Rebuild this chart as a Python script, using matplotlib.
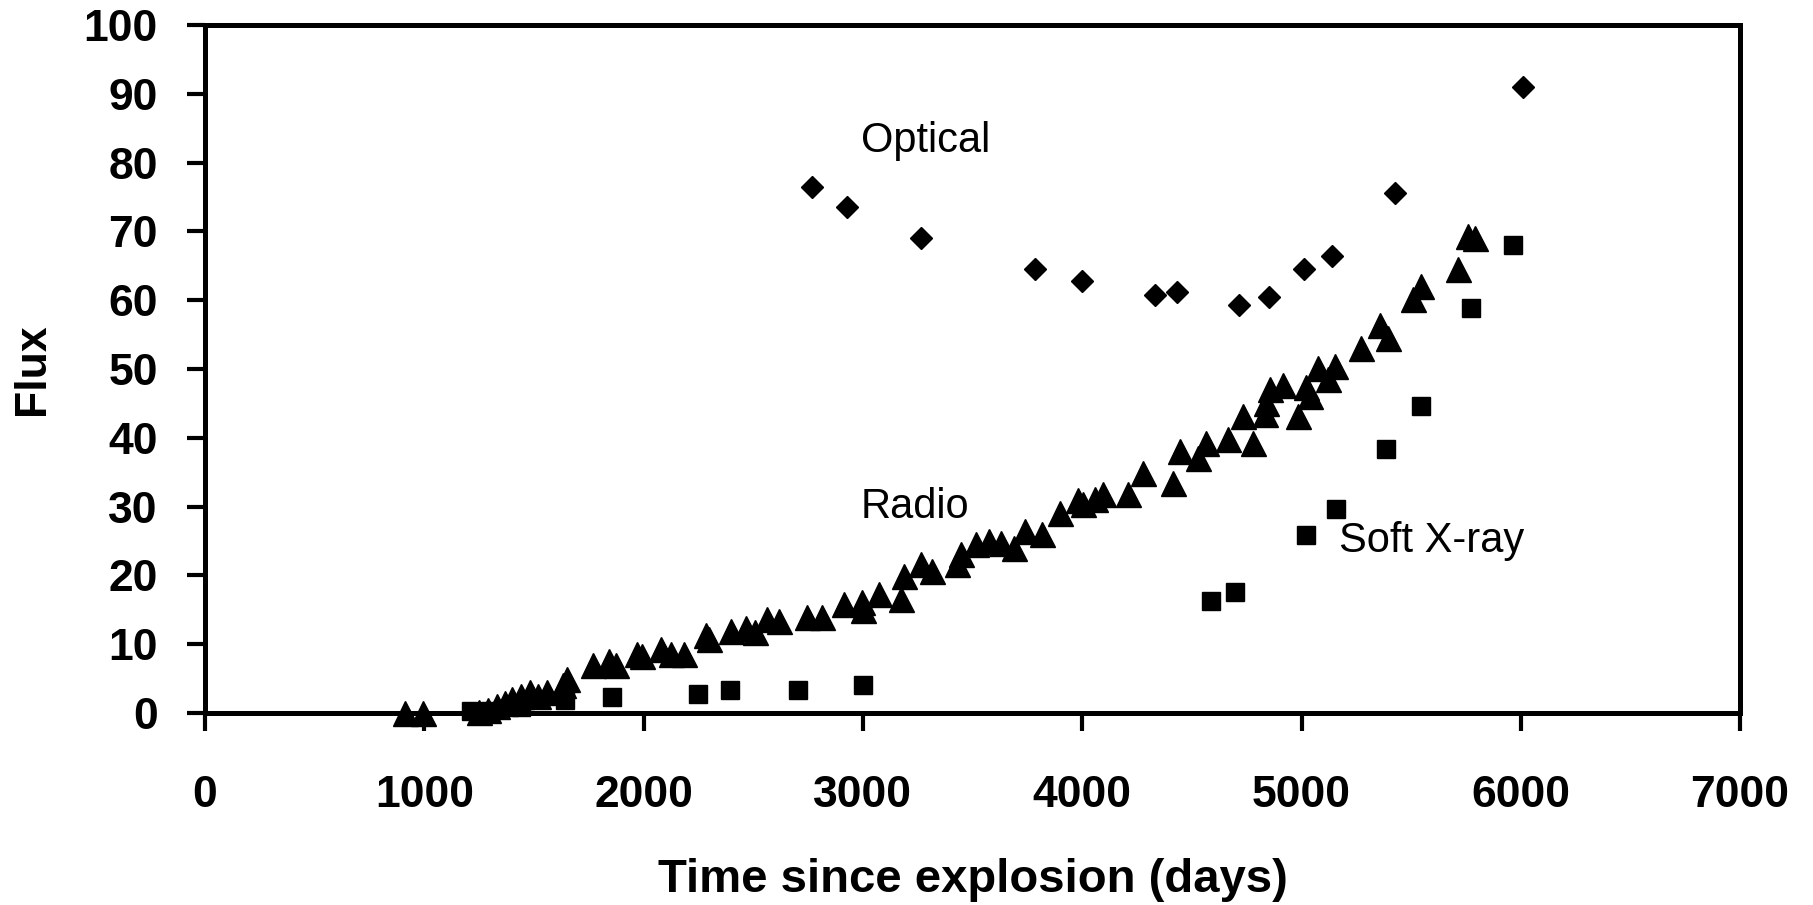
import matplotlib
matplotlib.use("Agg")
import matplotlib.pyplot as plt

# flux of the three bands against time since explosion (days)
optical_days = [2769, 2928, 3265, 3785, 3999, 4332, 4432, 4715, 4852, 5011, 5139, 5426, 6010]
optical_flux = [76.5, 73.6, 69.1, 64.5, 62.8, 60.8, 61.2, 59.3, 60.5, 64.5, 66.4, 75.6, 91.0]

radio_days = [912, 995, 1250, 1290, 1330, 1370, 1400, 1440, 1480, 1520, 1560, 1630,
              1650, 1770, 1840, 1872, 1968, 1991, 2077, 2123, 2183, 2283, 2300, 2397,
              2465, 2510, 2561, 2616, 2744, 2813, 2913, 2995, 3000, 3072, 3173, 3187,
              3264, 3314, 3428, 3446, 3514, 3573, 3628, 3687, 3741, 3815, 3900, 3982,
              4005, 4059, 4096, 4210, 4278, 4415, 4447, 4528, 4565, 4665, 4734, 4779,
              4834, 4839, 4856, 4916, 4984, 5020, 5038, 5075, 5121, 5152, 5271, 5357,
              5394, 5508, 5545, 5713, 5759, 5790]
radio_flux = [0.0, 0.0, 0.2, 0.5, 1.0, 1.5, 2.0, 2.5, 3.0, 2.5, 3.0, 4.0,
              5.0, 7.0, 7.5, 6.9, 8.5, 8.3, 9.3, 8.6, 8.6, 11.4, 10.8, 11.9,
              12.3, 11.7, 13.6, 13.3, 14.0, 14.0, 15.8, 16.2, 14.9, 17.3, 16.6, 19.9,
              21.6, 20.6, 21.6, 23.1, 24.6, 25.0, 24.7, 24.0, 26.5, 26.0, 29.1, 31.0,
              30.4, 31.1, 31.8, 31.8, 34.9, 33.4, 38.1, 37.1, 39.2, 39.8, 43.1, 39.2,
              43.5, 45.1, 47.1, 47.6, 43.1, 47.4, 46.0, 50.1, 48.6, 50.5, 53.1, 56.4,
              54.5, 60.2, 62.1, 64.6, 69.4, 69.0]

xray_days = [1215, 1255, 1300, 1440, 1640, 1854, 2246, 2392, 2702, 3002,
             4588, 4697, 5020, 5157, 5385, 5544, 5772, 5964]
xray_flux = [0.3, 0.0, 0.3, 0.8, 1.9, 2.3, 2.7, 3.4, 3.4, 4.0,
             16.3, 17.6, 25.9, 29.6, 38.3, 44.6, 58.9, 68.0]

labels = ["Optical", "Radio", "Soft X-ray"]
label_days = [2990, 2990, 5170]
label_flux = [81.6, 28.3, 23.4]

x_ticks = list(range(0, 7001, 1000))
y_ticks = list(range(0, 101, 10))

fig = plt.figure(figsize=(18.13, 9.05), dpi=100)
ax = fig.add_axes([0.1131, 0.2122, 0.8467, 0.7602])

# markers sitting on zero poke through the axis line, as in the original
ax.plot(radio_days, radio_flux, '^', color='black', markersize=18, linestyle='none',
        zorder=3, clip_on=False)
ax.plot(xray_days, xray_flux, 's', color='black', markersize=13, linestyle='none',
        zorder=4, clip_on=False)
ax.plot(optical_days, optical_flux, 'D', color='black', markersize=11.5, linestyle='none',
        zorder=5, clip_on=False)

narrow = ['Liberation Sans Narrow', 'Liberation Sans', 'DejaVu Sans']
for txt, xd, yd in zip(labels, label_days, label_flux):
    ax.text(xd, yd, txt, fontsize=30, family=narrow, ha='left', va='baseline')

ax.set_xlim(0, 7000)
ax.set_ylim(0, 100)
ax.set_xticks(x_ticks)
ax.set_yticks(y_ticks)

bold = dict(family=['Liberation Sans', 'DejaVu Sans'], fontweight='bold', fontsize=32)
ax.set_xticklabels([str(v) for v in x_ticks], **bold)
ax.set_yticklabels([str(v) for v in y_ticks], **bold)
ax.tick_params(axis='x', direction='out', length=13, width=3, pad=32)
ax.tick_params(axis='y', direction='out', length=13, width=3, pad=21)

for sp in ax.spines.values():
    sp.set_linewidth(3.6)
    sp.set_color('black')

ax.set_xlabel("Time since explosion (days)", family=['Liberation Sans', 'DejaVu Sans'],
              fontweight='bold', fontsize=34, labelpad=30)
ax.set_ylabel("Flux", **bold, labelpad=22)

fig.savefig("out.png", dpi=100)
